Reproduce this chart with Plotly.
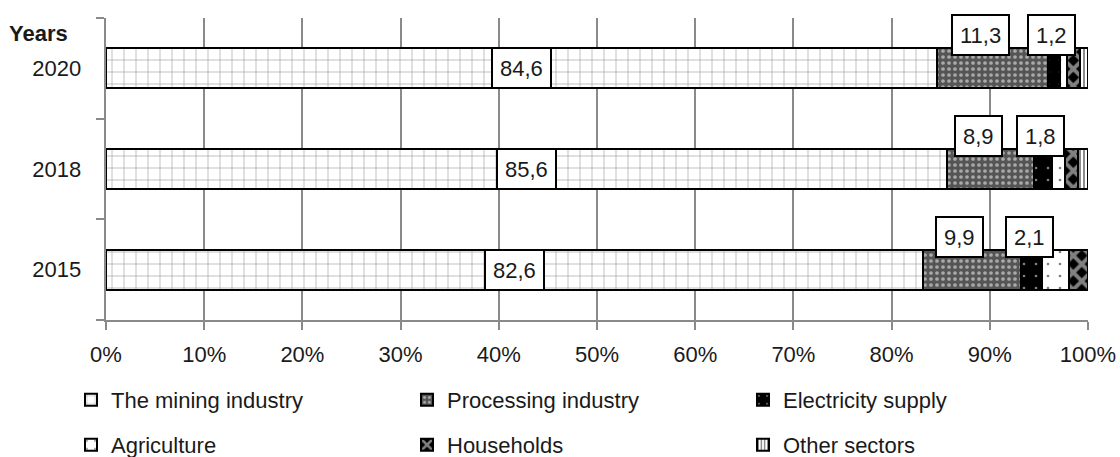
import plotly.graph_objects as go

years = ["2015", "2018", "2020"]
series_names = ["The mining industry", "Processing industry", "Electricity supply",
                "Agriculture", "Households", "Other sectors"]
mining = [82.6, 85.6, 84.6]
processing = [9.9, 8.9, 11.3]
electricity = [2.1, 1.8, 1.2]
agriculture = [2.8, 1.4, 0.8]
households = [1.9, 1.3, 1.3]
other = [0.0, 1.0, 0.8]
labelled_series = {0: "inside", 1: "above", 2: "above"}

series_values = [mining, processing, electricity, agriculture, households, other]

FONT = "Liberation Sans, Arial, sans-serif"
TXT = "#1a1a1a"
GRID = "#8a8a8a"

patterns = [
    dict(shape="+", bgcolor="white", fgcolor="#333", size=12, solidity=0.1),
    dict(shape=".", bgcolor="#555555", fgcolor="white", size=6, solidity=0.3),
    dict(shape=".", bgcolor="black", fgcolor="white", size=12, solidity=0.04),
    dict(shape=".", bgcolor="white", fgcolor="black", size=12, solidity=0.04),
    dict(shape="x", bgcolor="black", fgcolor="white", size=12, solidity=0.55),
    dict(shape="|", bgcolor="white", fgcolor="black", size=4, solidity=0.45),
]

fig = go.Figure()
for i, (name, vals) in enumerate(zip(series_names, series_values)):
    fig.add_trace(go.Bar(
        y=years, x=vals, name=name, orientation="h",
        marker=dict(color="white", line=dict(color="black", width=2), pattern=patterns[i]),
        legend="legend" if i < 3 else "legend2",
    ))

annotations = []
xshift_above = {1: -12, 2: -2}
for j, yr in enumerate(years):
    total = sum(s[j] for s in series_values)
    cum = 0.0
    for i, vals in enumerate(series_values):
        v = vals[j]
        mid = (cum + v / 2) / total * 100
        cum += v
        if i in labelled_series:
            txt = f"{v:.1f}".replace(".", ",")
            ann = dict(x=mid, y=j, xref="x", yref="y", text=txt, showarrow=False,
                       font=dict(size=22, color=TXT, family=FONT),
                       bgcolor="white", bordercolor="black", borderwidth=2,
                       borderpad=7, height=24)
            if labelled_series[i] == "above":
                ann.update(xshift=xshift_above[i], yshift=33)
            annotations.append(ann)

annotations.append(dict(text="<b>Years</b>", xref="paper", yref="paper",
                        x=-36 / 982, y=(320 - 33) / 302, xanchor="right", yanchor="middle",
                        showarrow=False, font=dict(size=22, color=TXT, family=FONT)))

legend_common = dict(orientation="h", entrywidth=291, entrywidthmode="pixels",
                     font=dict(size=22, color=TXT, family=FONT), xanchor="left",
                     yanchor="middle", bgcolor="rgba(0,0,0,0)", traceorder="normal")

fig.update_layout(
    width=1120, height=457,
    margin=dict(l=106, r=32, t=18, b=137, autoexpand=False),
    paper_bgcolor="white", plot_bgcolor="white",
    barmode="stack", barnorm="percent", bargap=0.6,
    font=dict(family=FONT, size=22, color=TXT),
    xaxis=dict(range=[0, 100], dtick=10, ticksuffix="%", showgrid=True, gridcolor=GRID,
               gridwidth=2, showline=True, linecolor=GRID, linewidth=2, ticks="outside",
               ticklen=8, tickwidth=2, tickcolor=GRID, zeroline=False,
               ticklabelstandoff=6,
               tickfont=dict(size=22, color=TXT, family=FONT)),
    yaxis=dict(type="category", categoryorder="array", categoryarray=years,
               range=[-0.5, 2.5], tickson="boundaries", ticksuffix="\u00a0\u00a0\u00a0",
               showline=True, linecolor=GRID, linewidth=2, ticks="outside", ticklen=8,
               tickwidth=2, tickcolor=GRID, showgrid=False,
               tickfont=dict(size=22, color=TXT, family=FONT)),
    legend=dict(x=-35 / 982, y=(320 - 400) / 302, **legend_common),
    legend2=dict(x=-35 / 982, y=(320 - 445) / 302, **legend_common),
    annotations=annotations,
)

fig.write_html("out.html")
